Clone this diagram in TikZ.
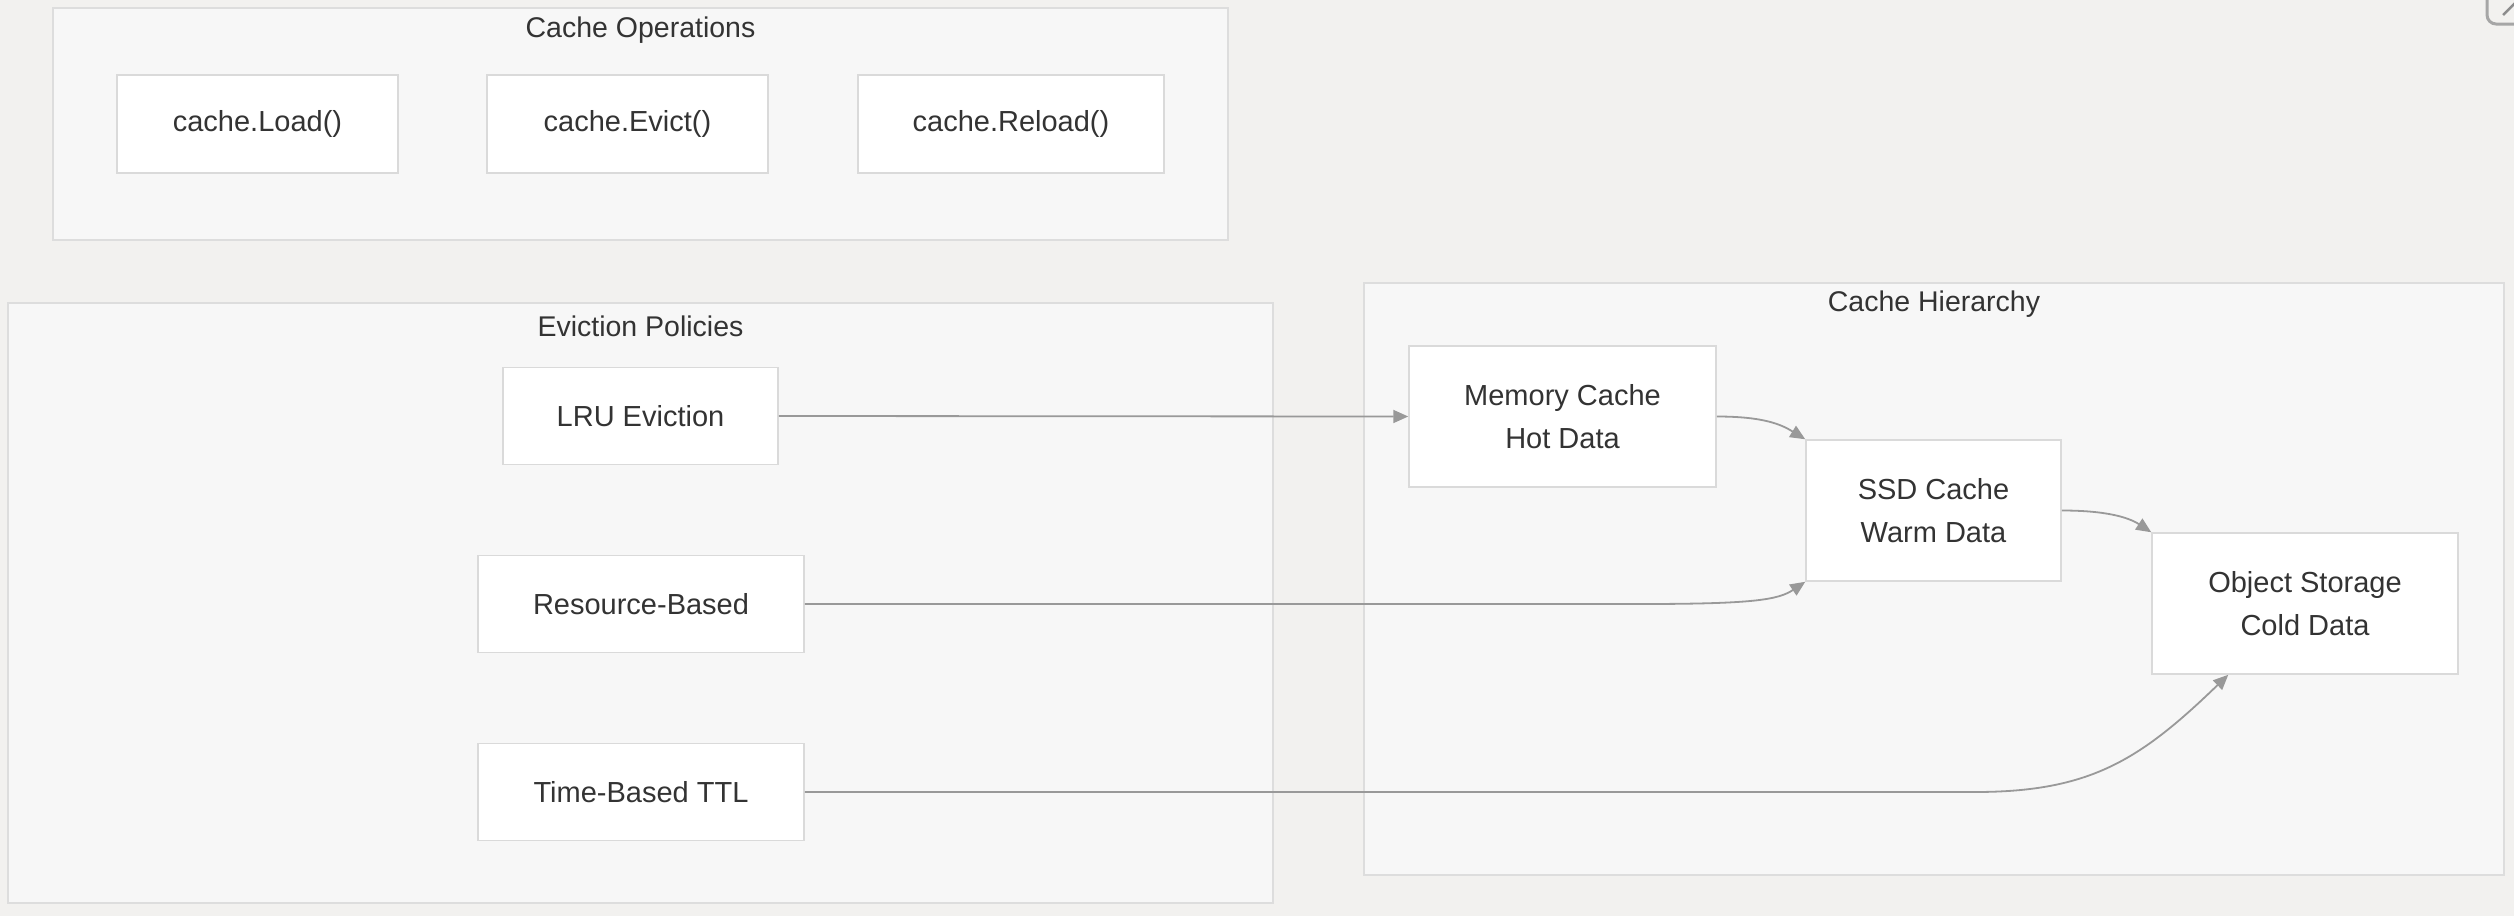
\documentclass[tikz,border=0pt]{standalone}
\usepackage{fontspec}
\setmainfont{Liberation Sans}
\usetikzlibrary{arrows.meta,calc}
\definecolor{bgc}{HTML}{F2F1EF}
\definecolor{clfill}{HTML}{F7F7F7}
\definecolor{clline}{HTML}{DDDDDD}
\definecolor{boxline}{HTML}{DADADA}
\definecolor{txt}{HTML}{333333}
\definecolor{edgec}{HTML}{999999}
\tikzset{
  cluster/.style={draw=clline, fill=clfill, line width=1.5pt},
  cltitle/.style={text=txt, font=\fontsize{28.5}{34}\selectfont, inner sep=0pt},
  box/.style={draw=boxline, fill=white, line width=1.5pt, text=txt, align=center,
    font=\fontsize{29}{43}\selectfont, inner sep=0pt},
  arr/.style={draw=edgec, line width=1.8pt, -{Triangle[length=15pt,width=13pt]}},
}
\begin{document}
\begin{tikzpicture}[x=1pt,y=-1pt]
\useasboundingbox (0,0) rectangle (2514,916);
\fill[bgc] (0,0) rectangle (2514,916);
% toolbar icon fragment
\begin{scope}
\clip (0,0) rectangle (2514,916);
\draw[draw=black!35, line width=3pt, rounded corners=9pt, fill=bgc] (2487,-30) rectangle (2540,24);
\draw[black!45, line width=2.5pt] (2503,15) -- (2516,2);
\end{scope}
% clusters
\draw[cluster] (53,8) rectangle (1228,240);
\node[cltitle] (tops) at (640.5,30) {Cache Operations};
\draw[cluster] (8,303) rectangle (1273,903);
\node[cltitle] (tevp) at (640.5,326) {Eviction Policies};
\draw[cluster] (1364,283) rectangle (2504,875);
\node[cltitle] (thier) at (1934,304) {Cache Hierarchy};
% cache operations
\node[box, minimum width=281pt, minimum height=98pt] (load) at (257.5,124) {cache.Load()};
\node[box, minimum width=281pt, minimum height=98pt] (evict) at (627.5,124) {cache.Evict()};
\node[box, minimum width=306pt, minimum height=98pt] (reload) at (1011,124) {cache.Reload()};
% eviction policies
\node[box, minimum width=275pt, minimum height=97pt] (lru) at (640.5,416) {LRU Eviction};
\node[box, minimum width=326pt, minimum height=97pt] (res) at (641,604) {Resource-Based};
\node[box, minimum width=326pt, minimum height=97pt] (ttl) at (641,792) {Time-Based TTL};
% hierarchy
\node[box, minimum width=307pt, minimum height=141pt] (mem) at (1562.5,416.5) {Memory Cache\\Hot Data};
\node[box, minimum width=255pt, minimum height=141pt] (ssd) at (1933.5,510.5) {SSD Cache\\Warm Data};
\node[box, minimum width=306pt, minimum height=141pt] (obj) at (2305,603.5) {Object Storage\\Cold Data};
% edges
\draw[arr] (lru.east) -- (mem.west);
\draw[arr] (mem.east) .. controls (1765,416.5) and (1782,425) .. (ssd.north west);
\draw[arr] (ssd.east) .. controls (2105,510.5) and (2128,517) .. (obj.north west);
\draw[arr] (res.east) -- (1640,604) .. controls (1752,604) and (1778,600) .. (ssd.south west);
\draw[arr] (ttl.east) -- (1975,792) .. controls (2090,792) and (2140,760) .. ($(obj.south west)+(77,0)$);
\end{tikzpicture}
\end{document}
